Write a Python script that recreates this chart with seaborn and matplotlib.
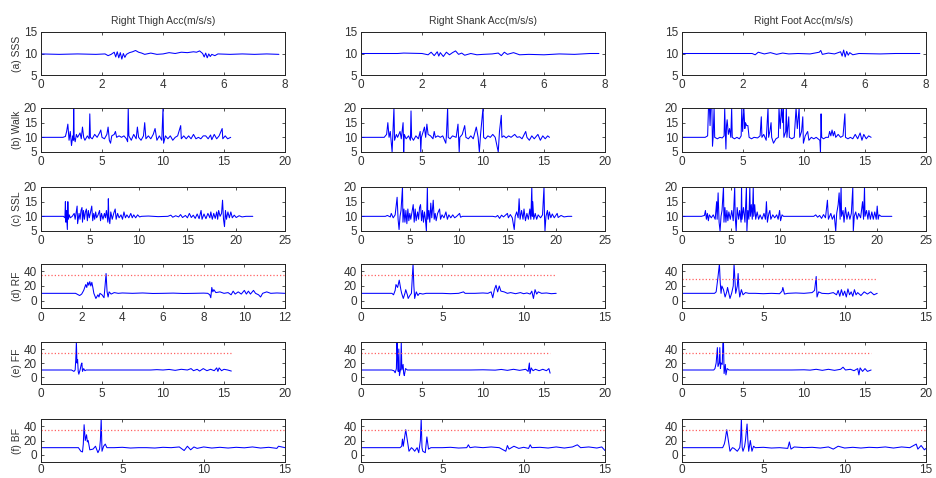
import numpy as np
import pandas as pd
import matplotlib
matplotlib.use("Agg")
import matplotlib.pyplot as plt
import seaborn as sns

# signals, (time s, acc) points
thigh_sss = [(0,9.9),(0.6,9.8),(1.2,9.9),(1.8,9.8),(2.1,9.9),(2.2,9.5),(2.3,9.8),(2.4,10.3),(2.45,9.2),(2.5,10.4),(2.55,9.0),(2.6,10.2),(2.65,8.7),(2.7,10.0),(2.75,9.1),(2.8,9.8),(2.9,10.2),(3.0,10.4),(3.1,10.7),(3.2,10.3),(3.3,10.1),(3.4,9.8),(3.6,10.1),(3.8,9.8),(4.0,9.9),(4.2,10.2),(4.4,10.0),(4.6,10.3),(4.8,10.2),(5.0,10.4),(5.1,10.3),(5.2,10.6),(5.3,10.0),(5.35,9.2),(5.4,10.1),(5.45,9.0),(5.5,9.9),(5.55,9.3),(5.6,9.8),(5.7,9.5),(5.8,9.9),(6.2,9.8),(6.6,9.9),(7.0,9.8),(7.4,9.9),(7.8,9.8)]
shank_sss = [(0,10.0),(1.2,10.0),(1.4,10.1),(2.0,10.0),(2.2,9.7),(2.3,10.3),(2.4,9.5),(2.5,10.4),(2.55,9.4),(2.6,10.2),(2.7,9.3),(2.8,10.3),(2.9,9.7),(3.0,10.2),(3.1,10.6),(3.2,9.8),(3.3,10.1),(3.4,9.6),(3.6,10.0),(3.8,9.7),(4.0,9.8),(4.3,9.9),(4.5,10.1),(4.6,9.5),(4.7,10.3),(4.8,9.8),(5.0,10.2),(5.2,9.7),(5.5,9.8),(6.0,9.7),(6.5,9.9),(7.0,9.8),(7.5,10.0),(7.8,10.0)]
foot_sss = [(0,10.0),(1.5,10.0),(2.3,10.0),(2.4,9.7),(2.5,10.3),(2.7,9.9),(2.9,10.2),(3.1,9.8),(3.3,10.1),(3.5,9.9),(3.8,10.0),(4.2,9.9),(4.5,10.3),(4.55,10.7),(4.6,9.8),(4.8,10.1),(5.0,9.9),(5.2,10.4),(5.25,9.4),(5.3,10.8),(5.35,9.2),(5.4,10.5),(5.45,9.6),(5.5,10.2),(5.6,9.7),(5.8,10.0),(6.5,9.9),(7.0,10.0),(7.8,10.0)]

thigh_walk = [(0,10),(1.8,10),(2.0,10.3),(2.1,12),(2.2,14.5),(2.3,9),(2.4,12),(2.5,7.2),(2.6,10.5),(2.65,9),(2.68,20),(2.72,10),(2.8,8.5),(2.9,11),(3.0,10),(3.2,11.5),(3.3,9.5),(3.4,13.5),(3.5,10),(3.6,9),(3.8,10.5),(3.95,9.5),(4.0,18),(4.05,10),(4.2,9.5),(4.4,11),(4.6,10),(4.8,11.5),(4.9,12.5),(5.0,10),(5.2,9.5),(5.4,11),(5.5,13.5),(5.6,9),(5.7,8),(5.8,10.5),(6.0,11),(6.1,12),(6.2,10),(6.4,10.5),(6.6,10),(6.8,10.5),(7.0,9.5),(7.1,8.5),(7.15,20),(7.2,10.5),(7.4,9),(7.6,11),(7.8,9.5),(7.9,13.5),(8.0,10),(8.2,9),(8.4,10.5),(8.5,15),(8.6,9.5),(8.8,10.5),(9.0,9.5),(9.2,11),(9.35,13),(9.5,9),(9.7,10.5),(9.9,9),(10.0,20),(10.05,8),(10.2,10.5),(10.4,9.5),(10.6,10.5),(10.8,9),(11.0,10),(11.2,10.5),(11.45,14),(11.5,9.5),(11.7,10.5),(11.9,9.5),(12.1,10.5),(12.3,9.5),(12.5,11),(12.7,9.5),(12.9,10),(13.1,9.5),(13.3,10.5),(13.5,10.5),(13.7,9.5),(13.9,10.8),(14.0,9.2),(14.2,11),(14.4,9.5),(14.6,10.5),(14.85,13),(14.9,9.5),(15.1,10.5),(15.3,9.5),(15.55,10)]
shank_walk = [(0,10),(1.9,10),(2.1,11),(2.2,15),(2.3,10),(2.4,12),(2.55,5),(2.62,12),(2.7,20),(2.75,9),(2.9,11),(3.0,10),(3.2,12),(3.3,9.5),(3.45,15),(3.5,5),(3.55,11),(3.7,9.5),(3.9,10.5),(4.05,9),(4.1,19),(4.15,10),(4.3,9),(4.5,10.5),(4.7,9.5),(4.85,12),(4.9,5),(4.95,10),(5.1,12),(5.2,13.5),(5.3,10),(5.4,14.5),(5.5,11),(5.7,10.5),(5.9,9.5),(6.0,12),(6.1,10),(6.3,10.5),(6.5,10),(6.7,10.5),(6.95,8),(7.0,10.5),(7.1,20),(7.15,10),(7.3,9.5),(7.5,10.5),(7.8,10),(7.95,14.5),(8.05,5),(8.1,10),(8.3,11),(8.5,14),(8.6,10),(8.8,9.5),(9.0,10.5),(9.2,9.5),(9.45,13.5),(9.6,10),(9.7,5),(9.8,11),(10.0,20),(10.05,10),(10.2,9.5),(10.4,10.5),(10.6,10),(10.8,11),(11.0,10),(11.25,5),(11.35,12),(11.5,17.5),(11.55,10),(11.7,10.5),(11.9,9.8),(12.1,10.5),(12.3,10),(12.6,11),(12.8,10),(13.0,10.2),(13.2,9.5),(13.5,12),(13.6,10),(13.8,9),(14.0,10.5),(14.2,9.5),(14.5,11),(14.7,9),(14.9,10.5),(15.1,9.5),(15.3,10.5),(15.45,10)]
foot_walk = [(0,10),(1.9,10),(2.1,10.5),(2.17,20),(2.25,20),(2.3,14),(2.35,20),(2.45,20),(2.5,7),(2.55,10),(2.63,20),(2.68,10),(2.9,9.5),(3.1,10),(3.3,9.8),(3.45,10.5),(3.5,20),(3.55,12),(3.6,6),(3.65,14),(3.7,16),(3.8,11),(3.9,13),(4.0,10),(4.07,20),(4.12,10),(4.3,9.5),(4.5,10),(4.7,9.5),(4.85,10.5),(4.9,20),(4.97,12),(5.07,20),(5.15,13),(5.2,15),(5.3,14),(5.4,14),(5.5,10),(5.7,9.5),(5.9,10),(6.2,9.8),(6.4,10.5),(6.5,17),(6.55,10),(6.7,11),(6.9,9),(7.05,20),(7.1,10),(7.2,12),(7.3,15),(7.35,10),(7.5,8),(7.7,9.5),(7.9,10),(7.95,20),(8.05,13),(8.15,20),(8.25,15),(8.3,20),(8.35,10),(8.5,12),(8.55,20),(8.6,10),(8.75,17),(8.8,10),(9.0,9.5),(9.2,10),(9.35,20),(9.45,13),(9.6,20),(9.65,10),(9.8,12),(9.9,17),(9.95,8),(10.1,10.5),(10.3,12),(10.4,9),(10.6,10),(10.8,9.5),(11.0,10),(11.3,9),(11.35,5),(11.4,18),(11.45,10),(11.6,9.5),(11.8,10),(12.0,10),(12.1,12),(12.2,10.5),(12.3,12.5),(12.4,10.5),(12.5,12),(12.6,10),(12.8,11),(13.0,10),(13.2,10.5),(13.35,18),(13.4,10),(13.6,9.5),(13.8,10),(14.0,9.5),(14.2,11),(14.4,9.5),(14.6,11.5),(14.75,9),(14.9,11),(15.1,9.5),(15.3,10.5),(15.5,10)]

thigh_ssl = [(0,10),(2.3,10),(2.45,9.5),(2.5,15),(2.55,8),(2.6,12),(2.7,5.5),(2.75,15),(2.8,9),(2.9,10.5),(3.0,9.5),(3.2,10),(3.4,11),(3.5,9),(3.7,13.5),(3.75,7.5),(3.9,11),(4.0,9),(4.1,12),(4.2,13),(4.25,8),(4.35,12),(4.45,9),(4.55,11.5),(4.65,12.5),(4.75,8.5),(4.85,12),(4.95,9.5),(5.05,11),(5.2,13.5),(5.3,8.5),(5.4,11),(5.5,9),(5.6,11.5),(5.7,9.5),(5.85,10.5),(6.0,12),(6.1,8.5),(6.2,11),(6.35,9),(6.5,11),(6.6,9.5),(6.7,12),(6.85,8),(6.9,16),(6.95,10),(7.05,7.5),(7.15,11.5),(7.3,9),(7.45,11),(7.6,12.5),(7.7,9),(7.85,11),(8.0,9.5),(8.2,10.5),(8.35,9),(8.5,11.5),(8.65,9.5),(8.8,10.5),(9.0,9.5),(9.2,11),(9.35,9.5),(9.5,10.5),(9.7,9.5),(9.9,10.5),(10.1,9.8),(10.3,10),(11,10.1),(12,9.9),(13,10),(13.3,10.4),(13.5,9.7),(13.8,10.2),(14.1,9.8),(14.3,10.6),(14.5,9.6),(14.8,10.3),(15.0,9.5),(15.2,11),(15.4,9.6),(15.6,10.4),(15.8,9.3),(16.0,10.8),(16.2,9.2),(16.4,12),(16.5,9),(16.7,10.8),(16.9,9.2),(17.1,11),(17.3,9.5),(17.4,11.5),(17.55,9),(17.7,11),(17.85,9.3),(18.0,11.5),(18.1,9),(18.2,12),(18.35,10),(18.5,11),(18.6,15.5),(18.7,9),(18.8,6.5),(18.9,12),(19.0,9),(19.15,11.5),(19.3,9.5),(19.45,11.5),(19.6,9.5),(19.8,10.4),(20.0,9.6),(20.3,10.2),(20.6,9.8),(21.0,10),(21.7,10)]
shank_ssl = [(0,10),(2.5,10),(2.7,10.3),(3.0,9.8),(3.1,11),(3.3,9.5),(3.5,10.5),(3.7,16.5),(3.8,9),(3.9,5.5),(4.0,10),(4.1,12),(4.25,20),(4.3,8),(4.4,12.5),(4.5,8),(4.6,12),(4.7,7.5),(4.8,12.5),(4.9,8.5),(5.0,11),(5.1,9),(5.25,12),(5.35,14),(5.45,8),(5.55,12.5),(5.65,8.5),(5.8,11.5),(5.9,9),(6.0,13),(6.1,14),(6.2,8.5),(6.3,12),(6.4,8),(6.5,11.5),(6.6,9),(6.7,5),(6.8,20),(6.85,9),(6.95,12),(7.05,8),(7.15,14.5),(7.25,9.5),(7.4,15.5),(7.5,9),(7.6,11),(7.7,8.5),(7.85,11),(8.05,12.5),(8.15,9),(8.3,10.5),(8.5,9.5),(8.7,11.5),(8.85,9),(9.0,10.5),(9.2,9.5),(9.4,10.5),(9.6,9.5),(9.8,10),(10.1,11),(10.2,9.7),(10.4,10),(12,10),(13.5,10),(13.8,9.8),(14.0,10.3),(14.2,9.3),(14.4,10.4),(14.6,9.8),(14.8,10.4),(15.0,11),(15.1,9.5),(15.3,10.6),(15.5,9.5),(15.7,5.5),(15.8,10),(15.95,11.5),(16.1,9.5),(16.2,16),(16.3,9),(16.45,12),(16.6,9),(16.7,12.5),(16.85,8.5),(17.0,11),(17.15,9),(17.3,12.5),(17.4,9),(17.5,20),(17.55,10),(17.6,15),(17.7,9),(17.85,11),(18.0,9),(18.15,10.5),(18.4,9.5),(18.6,10.5),(18.75,20),(18.8,10),(18.85,5),(18.95,10),(19.1,12),(19.2,9),(19.3,11.5),(19.45,9.5),(19.6,10.8),(19.8,9.5),(20.1,11),(20.2,9.6),(20.5,10.3),(20.8,9.8),(21.2,10),(21.6,10)]
foot_ssl = [(0,10),(2.0,10),(2.3,10.3),(2.4,12),(2.5,9),(2.6,11),(2.7,8.5),(2.8,10.5),(3.0,9.5),(3.2,10.5),(3.4,9),(3.55,15),(3.6,9),(3.7,18),(3.8,8),(3.9,5),(4.0,10),(4.1,12),(4.25,20),(4.3,8),(4.4,13),(4.5,8),(4.6,12),(4.7,8.5),(4.8,11.5),(4.95,9),(5.1,12),(5.25,8.5),(5.4,20),(5.45,10),(5.55,5),(5.65,13),(5.8,9),(5.9,12),(6.05,8),(6.1,20),(6.15,9),(6.3,13),(6.45,8),(6.6,20),(6.65,5),(6.75,12),(6.85,9),(6.95,20),(7.0,10),(7.1,14),(7.2,9),(7.3,20),(7.35,10),(7.45,14),(7.55,9),(7.7,11.5),(7.85,9),(8.0,10.5),(8.2,9),(8.4,11),(8.55,9),(8.65,15),(8.75,8),(8.9,11),(9.0,12),(9.1,9),(9.3,10.5),(9.5,9.5),(9.7,10.5),(9.85,9),(10.0,12),(10.1,8.5),(10.25,10.5),(10.4,10),(12,10),(13.5,10),(13.7,10.5),(13.9,9.7),(14.1,10.3),(14.3,9.3),(14.5,10.6),(14.7,9.5),(14.9,15.5),(15.0,9),(15.25,11),(15.4,9),(15.6,10.5),(15.75,5),(15.85,11),(16.0,14),(16.1,18),(16.2,9),(16.3,20),(16.35,10),(16.5,12),(16.6,8),(16.75,13),(16.9,9),(17.05,11.5),(17.2,9),(17.35,11),(17.5,20),(17.55,5),(17.65,10),(17.8,11.5),(17.95,9),(18.1,11),(18.3,9.5),(18.5,15),(18.6,9),(18.7,20),(18.75,10),(18.9,12),(19.05,9),(19.15,12),(19.3,9),(19.45,11.5),(19.6,9),(19.75,11.5),(19.9,9),(20.0,13.5),(20.1,9),(20.2,10.5),(20.4,10),(21.5,10)]

thigh_rf = [(0,10),(1.7,10),(1.8,8.5),(1.9,7),(2.0,9),(2.1,14),(2.2,22),(2.25,18),(2.3,25),(2.35,21),(2.4,26),(2.45,20),(2.5,25),(2.55,18),(2.6,10),(2.7,3),(2.8,8),(2.85,5),(2.9,10),(3.0,8),(3.1,4),(3.15,20),(3.2,37),(3.25,12),(3.3,5),(3.35,12),(3.45,9),(3.6,11),(3.8,10),(4.0,10.5),(4.5,10),(5.0,10.5),(5.5,9.8),(6.0,10),(6.5,10.3),(7.0,9.8),(7.5,10),(8.0,10.3),(8.2,10),(8.3,8),(8.35,4),(8.4,18),(8.45,12),(8.5,15),(8.6,11),(8.8,12),(9.0,10),(9.2,11),(9.35,8),(9.45,13),(9.55,9),(9.7,12),(9.85,9),(10.0,14),(10.1,9),(10.2,13),(10.3,9),(10.45,14),(10.55,10),(10.7,8),(10.8,5),(10.9,10),(11.1,12),(11.3,10),(11.6,10.5),(12.0,10)]
shank_rf = [(0,10),(1.9,10),(2.0,8),(2.1,14),(2.15,22),(2.25,18),(2.35,28),(2.45,15),(2.5,10),(2.6,3),(2.7,10),(2.75,15),(2.85,8),(2.9,3),(3.0,7),(3.1,10),(3.15,30),(3.2,50),(3.25,20),(3.3,3),(3.35,8),(3.4,12),(3.5,7),(3.6,10),(3.8,9),(4.0,10),(5.0,10),(5.5,9.5),(6.0,10),(6.3,12),(6.4,10),(7.0,10),(7.5,10.5),(7.8,10),(8.0,12),(8.1,4),(8.2,15),(8.3,21),(8.4,12),(8.5,20),(8.6,13),(8.8,12),(9.0,10),(9.2,11),(9.5,9.5),(9.8,11),(10.0,9.5),(10.2,10.5),(10.4,9),(10.5,13),(10.6,3),(10.7,15),(10.8,9),(10.9,12),(11.1,10),(11.4,10.5),(11.7,9.5),(12.0,10)]
foot_rf = [(0,10),(2.0,10),(2.1,12),(2.2,30),(2.3,50),(2.35,25),(2.4,10),(2.45,20),(2.55,15),(2.65,5),(2.75,12),(2.8,18),(2.9,8),(2.95,3),(3.05,10),(3.15,20),(3.2,50),(3.25,30),(3.3,10),(3.4,20),(3.45,37),(3.5,15),(3.55,5),(3.65,15),(3.75,8),(3.9,11),(4.1,10),(4.5,10),(5.0,9.5),(5.5,10),(6.0,9.5),(6.15,13),(6.2,18),(6.3,9),(6.5,10),(7.0,10.5),(7.5,10),(8.0,11),(8.15,14),(8.25,33),(8.3,5),(8.4,12),(8.6,10),(9.0,9.5),(9.3,11),(9.5,8),(9.6,14),(9.7,6),(9.8,15),(9.9,7),(10.0,13),(10.1,5),(10.2,16),(10.3,8),(10.4,12),(10.5,6),(10.6,15),(10.7,8),(10.8,11),(11.0,7),(11.2,12),(11.4,9),(11.6,12),(11.8,8),(12.0,10)]

thigh_ff = [(0,10),(2.5,10),(2.7,8),(2.8,10),(2.85,25),(2.9,50),(2.95,20),(3.0,25),(3.05,8),(3.1,4),(3.2,10),(3.3,18),(3.35,20),(3.4,8),(3.5,12),(3.6,9),(3.7,10),(6,10),(9,10),(9.5,10.5),(10,10),(10.5,10.8),(11,9.5),(11.5,11),(12,10),(12.3,12),(12.5,9),(12.8,11),(13.0,8.5),(13.3,12),(13.6,9),(13.9,11),(14.2,9),(14.4,13),(14.5,8),(14.6,13),(14.8,9),(15.0,11),(15.3,10),(15.6,8.5)]
shank_ff = [(0,10),(2.5,10),(2.7,9),(2.8,6),(2.9,12),(2.95,50),(3.0,25),(3.05,8),(3.1,40),(3.15,2),(3.25,12),(3.3,50),(3.35,10),(3.45,18),(3.5,5),(3.55,2),(3.65,12),(3.8,10),(6,10),(9,10),(10,10.3),(11,9.8),(11.5,10.8),(12,9.5),(12.5,11),(13,9.5),(13.5,11),(13.7,8),(13.8,20),(13.85,5),(13.95,13),(14.1,9),(14.3,11),(14.6,9),(14.9,11),(15.2,9),(15.4,12),(15.5,5.5)]
foot_ff = [(0,10),(2.6,10),(2.7,12),(2.8,20),(2.9,42),(2.95,15),(3.05,20),(3.1,42),(3.15,12),(3.2,20),(3.3,18),(3.35,48),(3.4,50),(3.45,5),(3.55,18),(3.6,3),(3.7,12),(3.85,10),(6,10),(9,10),(10,10.3),(10.5,9.8),(11,11),(11.5,9.5),(12,11),(12.5,9.5),(13,11),(13.2,14),(13.4,10),(13.8,11),(14.1,9),(14.4,12),(14.5,3),(14.6,13),(14.8,8),(15.0,12),(15.2,8),(15.5,10)]

thigh_bf = [(0,10),(2.3,10),(2.45,5),(2.55,4),(2.6,15),(2.65,42),(2.72,20),(2.8,28),(2.85,18),(2.9,20),(3.0,7),(3.2,8),(3.35,12),(3.5,3),(3.6,8),(3.65,20),(3.7,50),(3.75,5),(3.85,12),(3.95,15),(4.05,10),(4.5,10),(5,10.5),(5.5,9.5),(6.0,10),(6.5,10),(7.0,9.5),(7.5,10.5),(8.0,10),(8.5,11),(8.8,6),(9.0,12),(9.2,7),(9.4,11),(9.6,9),(10.0,11),(10.5,9.5),(11.0,10.5),(11.5,9.5),(12.0,10.5),(12.5,9.8),(13.0,11),(13.5,9.5),(14.0,10.5),(14.5,9),(14.6,12),(15.0,10)]
shank_bf = [(0,10),(2.4,10),(2.5,12),(2.55,22),(2.6,12),(2.75,35),(2.85,20),(2.95,5),(3.1,10),(3.2,8),(3.3,5),(3.45,10),(3.55,3),(3.65,20),(3.7,50),(3.75,10),(3.8,5),(3.95,3),(4.05,25),(4.15,8),(4.3,10),(5.0,10),(5.5,10.5),(6.0,9.5),(6.5,10),(6.6,14),(6.7,10),(7.0,11),(7.5,10),(8.0,11),(8.5,10),(8.9,5),(9.0,13),(9.1,8),(9.4,12),(9.7,9),(10.0,10.5),(10.3,9),(10.4,14),(10.5,10),(11.0,10.5),(11.5,9.5),(12.0,11),(12.5,9.5),(13.0,11),(13.3,14),(13.5,10),(14.0,11),(14.5,9.5),(14.8,11),(15.0,6)]
foot_bf = [(0,10),(2.5,10),(2.6,15),(2.65,20),(2.75,35),(2.85,20),(2.95,5),(3.1,10),(3.2,9),(3.4,5),(3.55,10),(3.6,20),(3.65,50),(3.7,10),(3.75,5),(3.85,12),(3.9,20),(4.0,43),(4.05,20),(4.1,5),(4.2,20),(4.3,5),(4.4,12),(4.5,10),(5.0,10.5),(5.5,9.5),(6.0,10),(6.5,9),(6.6,18),(6.7,8),(6.9,11),(7.5,10),(8.0,10.5),(8.5,9.5),(9.0,11),(9.3,8),(9.6,12),(10.0,9.5),(10.5,10.5),(11.0,9.5),(11.5,10.5),(12.0,10),(12.5,11),(13.0,9.5),(13.5,11),(14.0,10),(14.4,15),(14.5,8),(14.7,13),(14.9,7),(15.0,9)]

col_titles = ["Right Thigh Acc(m/s/s)", "Right Shank Acc(m/s/s)", "Right Foot Acc(m/s/s)"]
row_labels = ["(a) SSS", "(b) Walk", "(c) SSL", "(d) RF", "(e) FF", "(f) BF"]
signals = [
    [thigh_sss, shank_sss, foot_sss],
    [thigh_walk, shank_walk, foot_walk],
    [thigh_ssl, shank_ssl, foot_ssl],
    [thigh_rf, shank_rf, foot_rf],
    [thigh_ff, shank_ff, foot_ff],
    [thigh_bf, shank_bf, foot_bf],
]
# x upper limits per row/column, y limits per row
xmax = [[8, 8, 8], [20, 20, 20], [25, 25, 25], [12, 15, 15], [20, 20, 20], [15, 15, 15]]
ylims = [(5, 15), (5, 20), (5, 20), (-10, 50), (-10, 50), (-10, 50)]
yticks = [[5, 10, 15], [5, 10, 15, 20], [5, 10, 15, 20], [0, 20, 40], [0, 20, 40], [0, 20, 40]]
# red dotted threshold (rows d-f)
thresholds = [[None] * 3, [None] * 3, [None] * 3, [35, 35, 30], [35, 35, 35], [35, 35, 35]]

sns.set_style("ticks")
plt.rcParams["font.family"] = ["Liberation Sans", "DejaVu Sans"]
plt.rcParams["xtick.direction"] = "in"
plt.rcParams["ytick.direction"] = "in"

fig = plt.figure(figsize=(9.36, 4.78), dpi=100)
W, H = 936, 478
col_x = [41, 361, 682]
ax_w = 244
row_y = [(32, 75), (108, 152), (187, 231), (264, 308), (342, 384), (419, 462)]

for r in range(6):
    for c in range(3):
        top, bot = row_y[r]
        ax = fig.add_axes([col_x[c] / W, 1 - bot / H, ax_w / W, (bot - top) / H])
        pts = signals[r][c]
        df = pd.DataFrame(pts, columns=["t", "acc"])
        sns.lineplot(data=df, x="t", y="acc", ax=ax, color="#0000ff", linewidth=0.75,
                     estimator=None, sort=False)
        th = thresholds[r][c]
        if th is not None:
            ax.plot([0, df["t"].iloc[-1]], [th, th], color="#ff6060", linestyle=":", linewidth=0.9)
        ax.set_xlim(0, xmax[r][c])
        ax.set_ylim(*ylims[r])
        ax.set_yticks(yticks[r])
        step = 2 if xmax[r][c] <= 12 else 5
        ax.set_xticks(np.arange(0, xmax[r][c] + 0.1, step))
        ax.tick_params(labelsize=8.5, colors="#333333", length=2.5, width=0.6,
                       top=True, right=True)
        ax.tick_params(axis="x", pad=1.5 if r == 5 else 3)
        ax.tick_params(axis="y", pad=3)
        for s in ax.spines.values():
            s.set_visible(True)
            s.set_linewidth(0.7)
            s.set_color("#222222")
        ax.set_xlabel("")
        if c == 0:
            ax.set_ylabel(row_labels[r], fontsize=7.5, color="#333333", labelpad=1)
        else:
            ax.set_ylabel("")
        if r == 0:
            ax.set_title(col_titles[c], fontsize=7.5, color="#333333", pad=6)

fig.savefig("out.png", dpi=100)
